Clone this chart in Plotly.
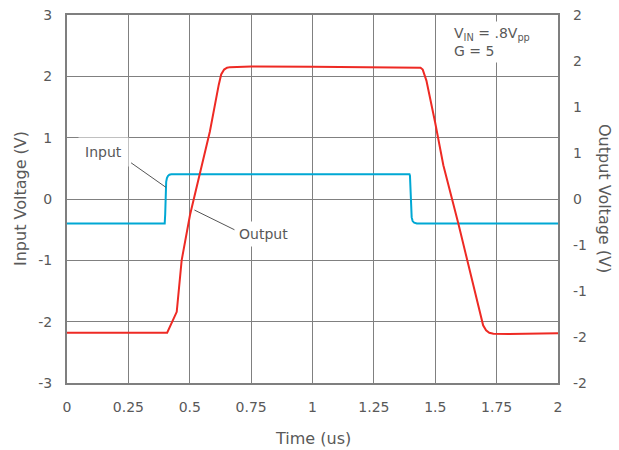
import plotly.graph_objects as go

# ---- data ----
time_in = [0, 0.398, 0.400, 0.402, 0.404, 0.407, 0.411, 0.417, 0.425, 0.45,
           1.395, 1.397, 1.399, 1.401, 1.404, 1.408, 1.414, 1.425, 1.45, 2.0]
input_v = [-0.40, -0.40, -0.25, 0.10, 0.28, 0.34, 0.375, 0.395, 0.402, 0.405,
           0.405, 0.38, 0.20, -0.15, -0.30, -0.36, -0.385, -0.398, -0.40, -0.40]

time_out = [0, 0.408, 0.447, 0.467, 0.501, 0.542, 0.582, 0.618, 0.628, 0.64, 0.652, 0.664,
            0.75, 1.0, 1.25, 1.44, 1.449, 1.456, 1.464, 1.499, 1.533, 1.594, 1.642,
            1.682, 1.695, 1.707, 1.72, 1.737, 1.8, 2.0]
output_v = [-2.18, -2.18, -1.84, -1.0, -0.26, 0.42, 1.10, 1.86, 2.03, 2.11, 2.14, 2.15,
            2.16, 2.155, 2.15, 2.14, 2.11, 2.04, 1.93, 1.26, 0.55, -0.40, -1.19,
            -1.89, -2.06, -2.14, -2.18, -2.195, -2.20, -2.19]

x_ticks = [0, 0.25, 0.5, 0.75, 1, 1.25, 1.5, 1.75, 2]
x_ticktext = ["0", "0.25", "0.5", "0.75", "1", "1.25", "1.5", "1.75", "2"]
left_ticks = [-3, -2, -1, 0, 1, 2, 3]
left_ticktext = ["-3", "-2", "-1", "0", "1", "2", "3"]
right_ticks = [-2, -1.5, -1, -0.5, 0, 0.5, 1, 1.5, 2]
right_ticktext = ["-2", "-2", "-1", "-1", "0", "1", "1", "2", "2"]

FONT = "DejaVu Sans"
TXT = "#595959"
GRID = "#808080"
CYAN = "#00A8D4"
RED = "#EE2A24"

fig = go.Figure()
fig.add_trace(go.Scatter(x=time_in, y=input_v, mode="lines",
                         line=dict(color=CYAN, width=2),
                         showlegend=False, hoverinfo="skip"))
fig.add_trace(go.Scatter(x=time_out, y=output_v, mode="lines",
                         line=dict(color=RED, width=2),
                         showlegend=False, hoverinfo="skip"))
# invisible trace so the right axis is drawn
fig.add_trace(go.Scatter(x=[0], y=[0], yaxis="y2", mode="lines",
                         line=dict(width=0), showlegend=False, hoverinfo="skip"))

fig.update_layout(
    width=619, height=450,
    margin=dict(l=67, r=61, t=15, b=67, autoexpand=False),
    paper_bgcolor="white", plot_bgcolor="white",
    font=dict(family=FONT, size=14, color=TXT),
    xaxis=dict(range=[0, 2], tickvals=x_ticks, ticktext=x_ticktext,
               showgrid=True, gridcolor=GRID, gridwidth=1,
               showline=True, linecolor="#7f7f7f", linewidth=2, mirror=True,
               ticks="", zeroline=False, ticklabelstandoff=10, automargin=False,
               tickfont=dict(family=FONT, size=14, color=TXT)),
    yaxis=dict(range=[-3, 3], tickvals=left_ticks, ticktext=left_ticktext,
               showgrid=True, gridcolor=GRID, gridwidth=1,
               showline=True, linecolor="#7f7f7f", linewidth=2, mirror=True,
               ticks="", zeroline=False, ticklabelstandoff=10, automargin=False,
               tickfont=dict(family=FONT, size=14, color=TXT)),
    yaxis2=dict(range=[-2, 2], overlaying="y", side="right",
                tickvals=right_ticks, ticktext=right_ticktext,
                showgrid=False, zeroline=False, showline=False, ticks="",
                ticklabelstandoff=14, automargin=False,
                tickfont=dict(family=FONT, size=14, color=TXT)),
)

ann = []
ann.append(dict(text="Time (us)", xref="paper", yref="paper",
                x=0.5, y=-0.1495, xanchor="center", yanchor="middle",
                showarrow=False, font=dict(family=FONT, size=16, color=TXT)))
ann.append(dict(text="Input Voltage (V)", xref="paper", yref="paper",
                x=-0.0957, y=0.5, xanchor="center", yanchor="middle",
                textangle=-90, showarrow=False,
                font=dict(family=FONT, size=16, color=TXT)))
ann.append(dict(text="Output Voltage (V)", xref="paper", yref="paper",
                x=1.0957, y=0.5, xanchor="center", yanchor="middle",
                textangle=90, showarrow=False,
                font=dict(family=FONT, size=16, color=TXT)))
ann.append(dict(text="Input", xref="x", yref="y", x=0.15, y=0.77,
                showarrow=False, bgcolor="white", borderpad=6,
                font=dict(family=FONT, size=14, color=TXT)))
ann.append(dict(text="Output", xref="x", yref="y", x=0.80, y=-0.575,
                showarrow=False, bgcolor="white", borderpad=4,
                font=dict(family=FONT, size=14, color=TXT)))
ann.append(dict(text="V<sub>IN</sub> = .8V<sub>pp</sub><br>G = 5",
                xref="x", yref="paper", x=1.56, y=0.985,
                xanchor="left", yanchor="top", align="left",
                showarrow=False, bgcolor="white", borderpad=3,
                font=dict(family=FONT, size=14, color=TXT)))
fig.update_layout(annotations=ann)

fig.add_shape(type="line", xref="x", yref="y", x0=0.261, y0=0.59, x1=0.403, y1=0.19,
              line=dict(color="#555555", width=1))
fig.add_shape(type="line", xref="x", yref="y", x0=0.519, y0=-0.18, x1=0.684, y1=-0.505,
              line=dict(color="#555555", width=1))

fig.write_html("out.html", config={"displayModeBar": False},
               post_script="document.body.style.margin='0px';")
